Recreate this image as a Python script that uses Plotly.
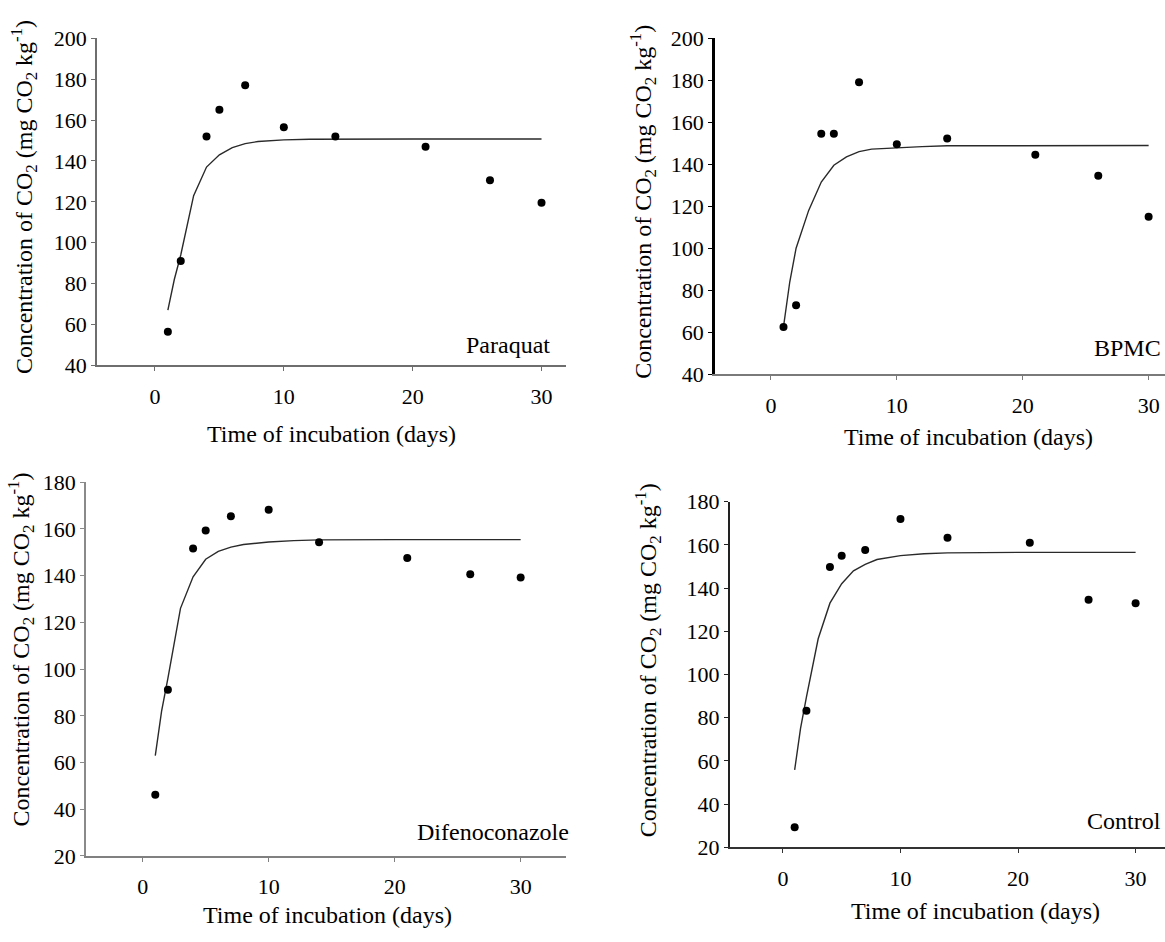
import plotly.graph_objects as go

# ---------------- data ----------------
days = [1, 2, 4, 5, 7, 10, 14, 21, 26, 30]

paraquat = [56.5, 91, 152, 165, 177, 156.5, 152, 147, 130.5, 119.5]
bpmc = [62.5, 72.8, 154.5, 154.5, 179, 149.5, 152.3, 144.5, 134.5, 115]
difeno = [46.2, 91.2, 151.6, 159.3, 165.4, 168.2, 154.3, 147.5, 140.6, 139.2]
control = [29.2, 83.2, 149.7, 155, 157.6, 172, 163.3, 161, 134.6, 133]

fit_days = [1, 1.5, 2, 3, 4, 5, 6, 7, 8, 10, 12, 14, 20, 30]
paraquat_fit = [67, 82, 94, 123, 137, 143, 146.5, 148.5, 149.5, 150.3, 150.6, 150.7, 150.7, 150.7]
bpmc_fit = [62.5, 84, 100, 118, 131.5, 139.5, 143.5, 146, 147.2, 147.9, 148.4, 148.8, 148.9, 148.9]
difeno_fit = [63, 82, 96, 126, 139.5, 147, 150.4, 152.2, 153.3, 154.4, 155, 155.3, 155.4, 155.4]
control_fit = [55.8, 75, 89.5, 116.5, 133, 142, 148, 151, 153.2, 155, 155.9, 156.3, 156.5, 156.5]

labels = ["Paraquat", "BPMC", "Difenoconazole", "Control"]
x_ticks = [0, 10, 20, 30]
y_ticks_top = [40, 60, 80, 100, 120, 140, 160, 180, 200]
y_ticks_bottom = [20, 40, 60, 80, 100, 120, 140, 160, 180]

W, H = 1165, 942
FONT = "Liberation Serif"

panels = [
    (paraquat, paraquat_fit, (97, 566), (27, 363), [-4.5, 31.9], [40, 200], y_ticks_top, "#6e6e6e", "#6e6e6e", 1.5, 1.5),
    (bpmc, bpmc_fit, (715, 1165), (27, 372), [-4.44, 31.3], [40, 200], y_ticks_top, "#7a7a7a", "#000000", 2, 2.5),
    (difeno, difeno_fit, (86, 566), (483, 867), [-4.5, 33.6], [20, 180], y_ticks_bottom, "#808080", "#8a8a8a", 2, 1.5),
    (control, control_fit, (730, 1165), (503, 858), [-4.5, 32.5], [20, 180], y_ticks_bottom, "#333333", "#222222", 2, 2),
]

fig = go.Figure()
layout = {}
for i, (pts, fit, xd, yd, xr, yr, yt, xc, yc, xw, yw) in enumerate(panels, start=1):
    sfx = "" if i == 1 else str(i)
    fig.add_trace(go.Scatter(x=fit_days, y=fit, mode="lines",
                             line=dict(color="#2a2a2a", width=1.4),
                             xaxis="x" + sfx, yaxis="y" + sfx, showlegend=False,
                             hoverinfo="skip"))
    fig.add_trace(go.Scatter(x=days, y=pts, mode="markers",
                             marker=dict(color="black", size=8, symbol="circle"),
                             xaxis="x" + sfx, yaxis="y" + sfx, showlegend=False))
    layout["xaxis" + sfx] = dict(
        domain=[xd[0] / W, xd[1] / W], range=xr, anchor="y" + sfx,
        tickvals=x_ticks, ticks="outside", ticklen=4, tickcolor=xc, tickwidth=1,
        showline=True, linecolor=xc, linewidth=xw, showgrid=False, zeroline=False,
        tickfont=dict(family=FONT, size=22, color="black"), ticklabelstandoff=6,
        fixedrange=True)
    layout["yaxis" + sfx] = dict(
        domain=[1 - yd[1] / H, 1 - yd[0] / H], range=yr, anchor="x" + sfx,
        tickvals=yt, ticks="outside", ticklen=4, tickcolor=yc, tickwidth=1,
        showline=True, linecolor=yc, linewidth=yw, showgrid=False, zeroline=False,
        tickfont=dict(family=FONT, size=22, color="black"), fixedrange=True)

ytitle = "Concentration of CO<sub>2</sub> (mg CO<sub>2</sub> kg<sup>-1</sup>)"
xtitle = "Time of incubation (days)"

ann = []
def add(text, px, py, size=24, angle=0, xanchor="center"):
    ann.append(dict(text=text, x=px / W, y=1 - py / H, xref="paper", yref="paper",
                    showarrow=False, textangle=angle, xanchor=xanchor, yanchor="middle",
                    font=dict(family=FONT, size=size, color="black")))

for (px, py) in [(24, 190), (643, 195), (21, 655), (648, 666)]:
    add(ytitle, px, py, 24, -90)
for (px, py) in [(331, 433), (968, 437), (327, 928), (975, 923)]:
    add(xtitle, px, py, 24, 0)

add(labels[0], 552, 342, 24, 0, "right")
add(labels[1], 1163, 345, 24, 0, "right")
add(labels[2], 415, 842, 24, 0, "left")
add(labels[3], 1163, 831, 24, 0, "right")

fig.update_layout(width=W, height=H, margin=dict(l=0, r=0, t=0, b=0),
                  paper_bgcolor="white", plot_bgcolor="white",
                  font=dict(family=FONT, color="black"),
                  annotations=ann, showlegend=False, **layout)

fig.write_html("out.html", config={"displayModeBar": False},
               post_script="document.body.style.margin='0';")
